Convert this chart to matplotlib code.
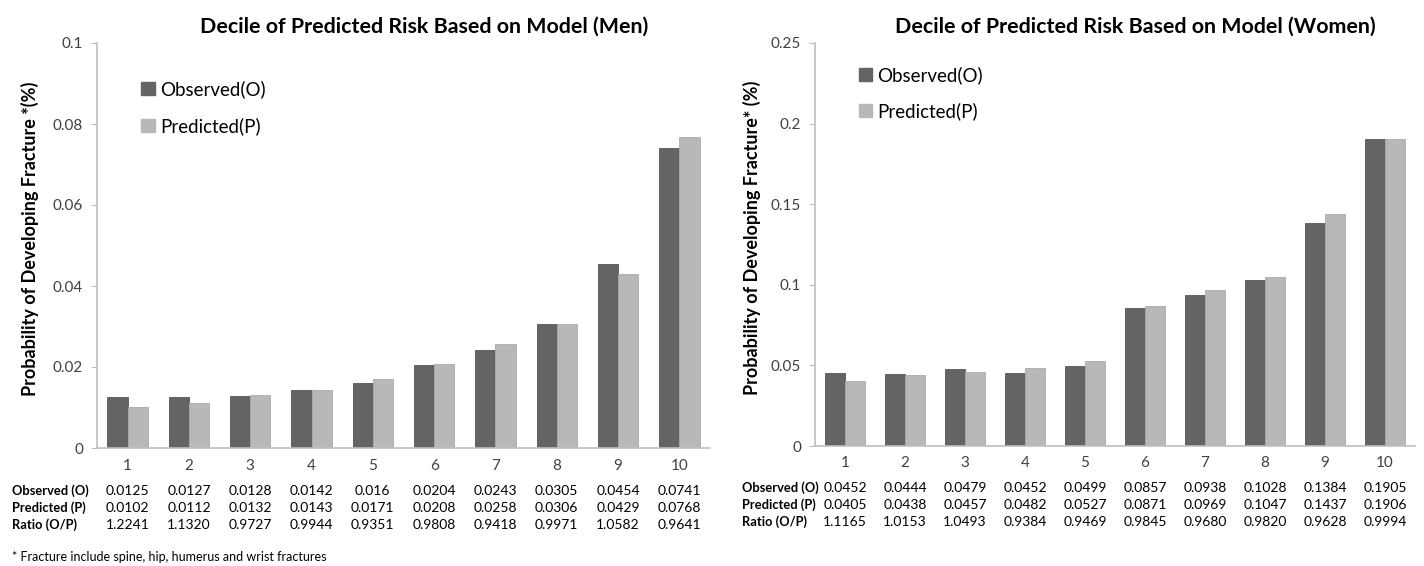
import matplotlib
matplotlib.use("Agg")
import matplotlib.pyplot as plt
import matplotlib.transforms as mtransforms
from matplotlib.patches import Patch
import numpy as np

plt.rcParams['font.family'] = ['Lato', 'DejaVu Sans']

deciles = [1, 2, 3, 4, 5, 6, 7, 8, 9, 10]

men_obs = [0.0125, 0.0127, 0.0128, 0.0142, 0.016, 0.0204, 0.0243, 0.0305, 0.0454, 0.0741]
men_pred = [0.0102, 0.0112, 0.0132, 0.0143, 0.0171, 0.0208, 0.0258, 0.0306, 0.0429, 0.0768]
men_ratio = ["1.2241", "1.1320", "0.9727", "0.9944", "0.9351", "0.9808", "0.9418", "0.9971", "1.0582", "0.9641"]
men_obs_txt = ["0.0125", "0.0127", "0.0128", "0.0142", "0.016", "0.0204", "0.0243", "0.0305", "0.0454", "0.0741"]
men_pred_txt = ["0.0102", "0.0112", "0.0132", "0.0143", "0.0171", "0.0208", "0.0258", "0.0306", "0.0429", "0.0768"]

women_obs = [0.0452, 0.0444, 0.0479, 0.0452, 0.0499, 0.0857, 0.0938, 0.1028, 0.1384, 0.1905]
women_pred = [0.0405, 0.0438, 0.0457, 0.0482, 0.0527, 0.0871, 0.0969, 0.1047, 0.1437, 0.1906]
women_ratio = ["1.1165", "1.0153", "1.0493", "0.9384", "0.9469", "0.9845", "0.9680", "0.9820", "0.9628", "0.9994"]
women_obs_txt = ["0.0452", "0.0444", "0.0479", "0.0452", "0.0499", "0.0857", "0.0938", "0.1028", "0.1384", "0.1905"]
women_pred_txt = ["0.0405", "0.0438", "0.0457", "0.0482", "0.0527", "0.0871", "0.0969", "0.1047", "0.1437", "0.1906"]

row_labels = ["Observed (O)", "Predicted (P)", "Ratio (O/P)"]

dark = "#646464"
light = "#b8b8b8"
axis_col = "#bfbfbf"
txt = "#404040"

fig = plt.figure(figsize=(14.24, 5.66), dpi=100)
W, H = 1424, 566


def fy(py):
    return 1 - py / H


def panel(rect, obs, pred, rows, ymax, ystep, title, title_x, ylabel, ylabel_x,
          ylabel_y, row_x, xlab_y, leg_anchor):
    ax = fig.add_axes(rect)
    x = np.arange(len(deciles))
    w = 0.33
    ax.bar(x - w / 2, obs, w, color=dark, edgecolor="#555555", linewidth=0.6)
    ax.bar(x + w / 2, pred, w, color=light, edgecolor="#aaaaaa", linewidth=0.6)
    ax.set_xlim(-0.5, len(deciles) - 0.5)
    ax.set_ylim(0, ymax)
    yt = np.round(np.arange(0, ymax + ystep / 2, ystep), 3)
    ax.set_yticks(yt)
    ax.set_yticklabels(["%g" % v for v in yt])
    ax.set_xticks([])
    for s in ["top", "right"]:
        ax.spines[s].set_visible(False)
    for s in ["left", "bottom"]:
        ax.spines[s].set_color(axis_col)
        ax.spines[s].set_linewidth(1.2)
    ax.tick_params(axis='y', colors=axis_col, length=4, labelcolor=txt, labelsize=11, pad=6)

    tr = mtransforms.blended_transform_factory(ax.transData, fig.transFigure)
    for i, d in enumerate(deciles):
        ax.text(i, fy(xlab_y), str(d), transform=tr, ha='center', va='center',
                fontsize=11, color=txt)
    for r, vals in enumerate(rows):
        yy = fy(xlab_y + 25 + r * 17)
        fig.text(row_x, yy, row_labels[r], ha='left', va='center', fontsize=9.3,
                 fontweight='bold', color='black')
        for i, v in enumerate(vals):
            ax.text(i, yy, v, transform=tr, ha='center', va='center', fontsize=10,
                    color='black')

    fig.text(title_x, fy(27), title, ha='center', va='center', fontsize=15.4,
             fontweight='bold', color='black')
    fig.text(ylabel_x, fy(ylabel_y), ylabel, rotation=90, ha='center',
             va='center', fontsize=13, fontweight='bold', color='black')

    handles = [Patch(facecolor=dark, edgecolor=dark, label="Observed(O)"),
               Patch(facecolor=light, edgecolor=light, label="Predicted(P)")]
    ax.legend(handles=handles, loc='upper left', bbox_to_anchor=leg_anchor, frameon=False,
              fontsize=13.5, handlelength=0.7, handleheight=0.7, handletextpad=0.3,
              labelspacing=1.0, labelcolor='black')
    return ax


panel([97 / W, fy(448), (710 - 97) / W, (448 - 43) / H], men_obs, men_pred,
      [men_obs_txt, men_pred_txt, men_ratio], 0.1, 0.02,
      "Decile of Predicted Risk Based on Model (Men)", 424 / W,
      "Probability of Developing Fracture *(%)", 30 / W, 239, 12 / W, 466, (0.045, 0.95))

panel([815 / W, fy(446), (1415 - 815) / W, (446 - 43) / H], women_obs, women_pred,
      [women_obs_txt, women_pred_txt, women_ratio], 0.25, 0.05,
      "Decile of Predicted Risk Based on Model (Women)", 1135 / W,
      "Probability of Developing Fracture* (%)", 752 / W, 238, 742 / W, 463, (0.045, 0.985))

fig.text(12 / W, fy(557), "* Fracture include spine, hip, humerus and wrist fractures",
         ha='left', va='center', fontsize=9, color='black')

fig.savefig("out.png", dpi=100)
